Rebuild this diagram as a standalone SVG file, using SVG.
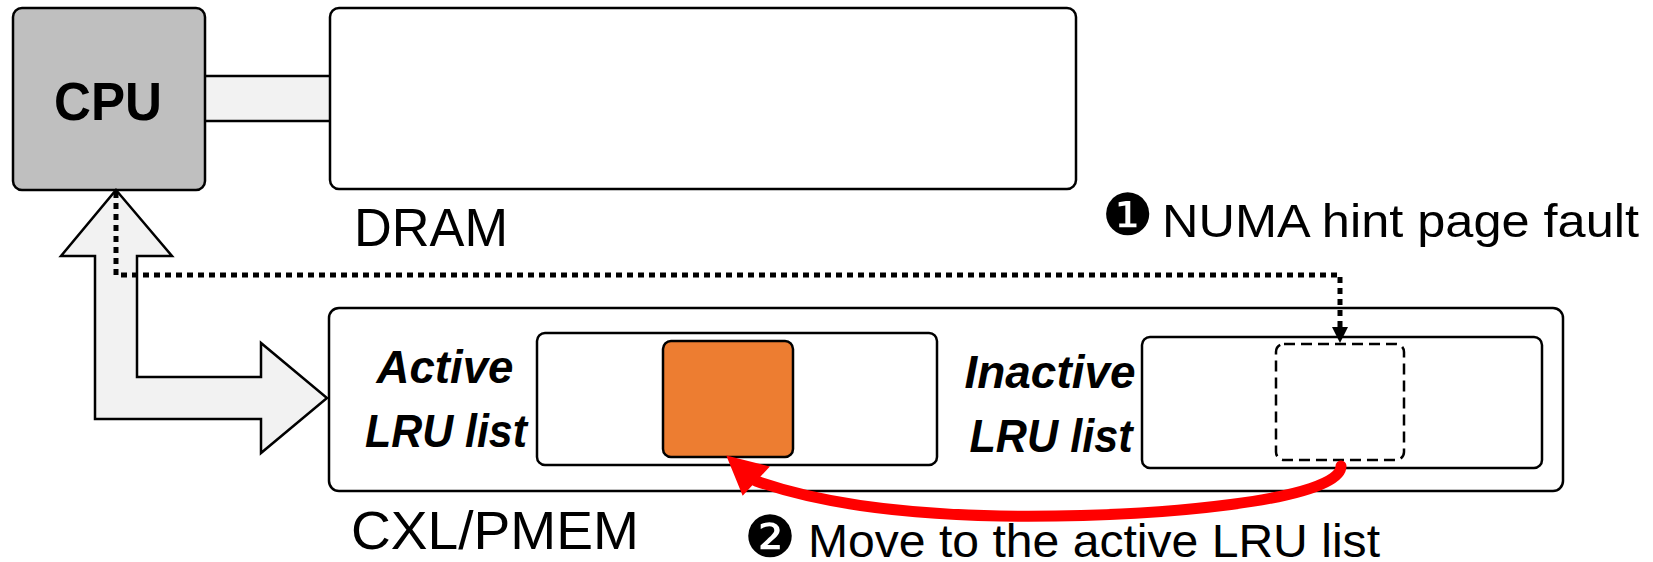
<svg xmlns="http://www.w3.org/2000/svg" width="1653" height="562" viewBox="0 0 1653 562">
  <style>
    .box { fill: #ffffff; stroke: #000000; stroke-width: 2.5; }
    .lbl { font-family: "Liberation Sans", Arial, sans-serif; fill: #000000; }
    .bi { font-family: "Liberation Sans", Arial, sans-serif; font-weight: bold; font-style: italic; font-size: 46px; fill: #000000; text-anchor: middle; }
    .num { font-family: "DejaVu Sans", sans-serif; fill: #000000; }
  </style>

  <!-- memory bus between CPU and DRAM -->
  <rect id="bus" x="200" y="76" width="134" height="45" fill="#f2f2f2" stroke="#000000" stroke-width="2.5"/>

  <g id="cpu">
    <rect x="13" y="8" width="192" height="182" rx="9" fill="#bfbfbf" stroke="#000000" stroke-width="2.5"/>
    <text class="lbl" x="108" y="120" font-size="54" font-weight="bold" text-anchor="middle" textLength="108" lengthAdjust="spacingAndGlyphs">CPU</text>
  </g>

  <g id="dram">
    <rect class="box" x="330" y="8" width="746" height="181" rx="9"/>
    <text class="lbl" x="354" y="246" font-size="54" textLength="154" lengthAdjust="spacingAndGlyphs">DRAM</text>
  </g>

  <!-- bidirectional block arrow CPU <-> CXL/PMEM -->
  <g id="cxl-link">
    <polygon points="116,190 172,256 137,256 137,377 261,377 261,343 327,398 261,453 261,419 95,419 95,256 61,256" fill="#f2f2f2" stroke="#000000" stroke-width="2.5" stroke-linejoin="miter"/>
  </g>

  <g id="cxl-pmem">
    <rect class="box" x="329" y="308" width="1234" height="183" rx="10"/>
    <text class="lbl" x="351" y="549" font-size="53" textLength="288" lengthAdjust="spacingAndGlyphs">CXL/PMEM</text>
  </g>

  <g id="active-list">
    <text class="bi" x="445" y="383" textLength="137" lengthAdjust="spacingAndGlyphs">Active</text>
    <text class="bi" x="446" y="447" textLength="162" lengthAdjust="spacingAndGlyphs">LRU list</text>
    <rect class="box" x="537" y="333" width="400" height="132" rx="8"/>
  </g>

  <g id="active-page">
    <rect x="663" y="341" width="130" height="116" rx="8" fill="#ed7d31" stroke="#000000" stroke-width="2.5"/>
  </g>

  <g id="inactive-list">
    <text class="bi" x="1050" y="388" textLength="171" lengthAdjust="spacingAndGlyphs">Inactive</text>
    <text class="bi" x="1051" y="452" textLength="163" lengthAdjust="spacingAndGlyphs">LRU list</text>
    <rect class="box" x="1142" y="337" width="400" height="131" rx="8"/>
  </g>

  <g id="inactive-page">
    <rect x="1276" y="344" width="128" height="116" rx="8" fill="none" stroke="#000000" stroke-width="2.5" stroke-dasharray="11 6"/>
  </g>

  <g id="connectors">
    <!-- step 1: NUMA hint page fault -->
    <polyline points="116,192 116,275 1340,275 1340,328" fill="none" stroke="#000000" stroke-width="5" stroke-dasharray="6 5"/>
    <path d="M1332 327 L1348 327 L1340 343 Z" fill="#000000"/>
    <!-- step 2: promotion to the active list -->
    <path d="M 1341 466 C 1342 500, 1160 518, 1000 516 C 890 514, 810 500, 756 481" fill="none" stroke="#ff0000" stroke-width="11" stroke-linecap="round"/>
    <polygon points="728,457 743,494 768,467" fill="#ff0000" stroke="#ff0000" stroke-width="2" stroke-linejoin="miter"/>
  </g>

  <g id="step-labels">
    <text class="num" x="1102" y="235" font-size="58">❶</text>
    <text class="lbl" x="1162" y="237" font-size="47" textLength="477" lengthAdjust="spacingAndGlyphs">NUMA hint page fault</text>
    <text class="num" x="744" y="557" font-size="58">❷</text>
    <text class="lbl" x="808" y="557" font-size="46" textLength="572" lengthAdjust="spacingAndGlyphs">Move to the active LRU list</text>
  </g>
</svg>
